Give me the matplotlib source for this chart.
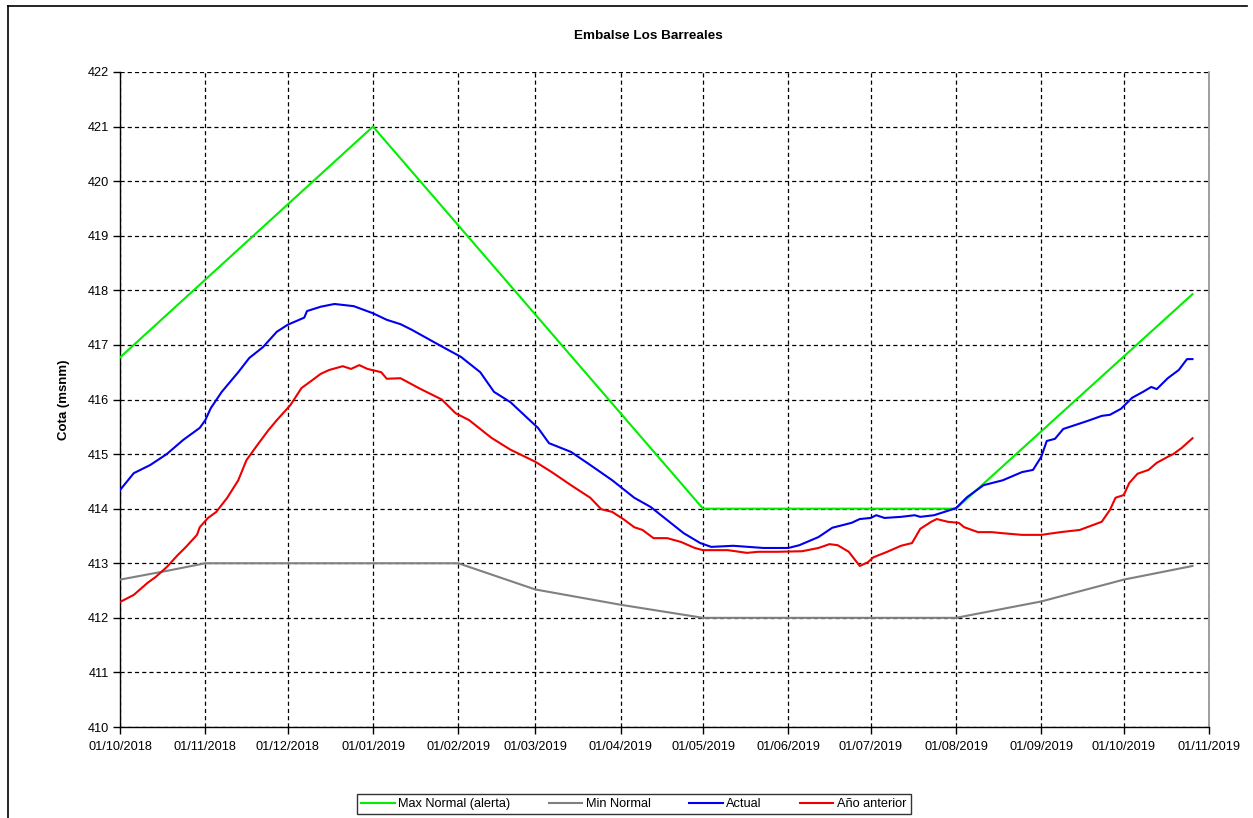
import matplotlib
matplotlib.use("Agg")
import matplotlib.pyplot as plt
import matplotlib.dates as mdates
import pandas as pd
from matplotlib.lines import Line2D

plt.rcParams['font.family'] = ['Liberation Sans', 'DejaVu Sans']
plt.rcParams['lines.scale_dashes'] = False

title = "Embalse Los Barreales"
ylabel = "Cota (msnm)"
series_names = ["Max Normal (alerta)", "Min Normal", "Actual", "Año anterior"]
series_colors = ["#00ee00", "#808080", "#0000ee", "#ee0000"]

max_dates = ["2018-10-01", "2019-01-01", "2019-05-01", "2019-08-01", "2019-10-26"]
max_vals = [416.77, 421.0, 414.0, 414.0, 417.93]

min_dates = ["2018-10-01", "2018-10-18", "2018-11-01", "2019-02-01", "2019-03-01",
             "2019-04-01", "2019-05-01", "2019-08-01", "2019-09-01", "2019-10-01", "2019-10-26"]
min_vals = [412.70, 412.86, 413.0, 413.0, 412.52, 412.24, 412.0, 412.0, 412.3, 412.7, 412.95]

act_dates = ["2018-10-01", "2018-10-06", "2018-10-12", "2018-10-18", "2018-10-24", "2018-10-30",
             "2018-11-01", "2018-11-03", "2018-11-07", "2018-11-13", "2018-11-17", "2018-11-22",
             "2018-11-27", "2018-12-01", "2018-12-07", "2018-12-08", "2018-12-13", "2018-12-18",
             "2018-12-25", "2019-01-01", "2019-01-06", "2019-01-11", "2019-01-15", "2019-01-25",
             "2019-02-02", "2019-02-09", "2019-02-14", "2019-02-20", "2019-02-27", "2019-03-02",
             "2019-03-06", "2019-03-14", "2019-03-21", "2019-03-29", "2019-04-06", "2019-04-12",
             "2019-04-18", "2019-04-24", "2019-04-30", "2019-05-04", "2019-05-12", "2019-05-23",
             "2019-06-01", "2019-06-05", "2019-06-12", "2019-06-17", "2019-06-24", "2019-06-27",
             "2019-07-01", "2019-07-03", "2019-07-06", "2019-07-12", "2019-07-17", "2019-07-19",
             "2019-07-24", "2019-07-29", "2019-08-01", "2019-08-05", "2019-08-11", "2019-08-18",
             "2019-08-25", "2019-08-29", "2019-09-01", "2019-09-03", "2019-09-06", "2019-09-09",
             "2019-09-12", "2019-09-18", "2019-09-23", "2019-09-26", "2019-09-30", "2019-10-04",
             "2019-10-08", "2019-10-11", "2019-10-13", "2019-10-17", "2019-10-21", "2019-10-24",
             "2019-10-26"]
act_vals = [414.34, 414.65, 414.80, 415.00, 415.26, 415.48,
            415.62, 415.84, 416.14, 416.50, 416.76, 416.96,
            417.24, 417.37, 417.50, 417.62, 417.70, 417.75,
            417.71, 417.58, 417.46, 417.38, 417.28, 417.00,
            416.78, 416.50, 416.14, 415.95, 415.62, 415.48,
            415.20, 415.04, 414.80, 414.52, 414.20, 414.03,
            413.79, 413.55, 413.37, 413.30, 413.32, 413.28,
            413.28, 413.33, 413.48, 413.65, 413.74, 413.81,
            413.83, 413.88, 413.83, 413.85, 413.88, 413.85,
            413.88, 413.96, 414.01, 414.21, 414.43, 414.52,
            414.67, 414.71, 414.95, 415.24, 415.28, 415.46,
            415.51, 415.61, 415.70, 415.72, 415.83, 416.03,
            416.14, 416.23, 416.19, 416.39, 416.54, 416.74,
            416.74]

prev_dates = ["2018-10-01", "2018-10-06", "2018-10-11", "2018-10-14", "2018-10-18", "2018-10-22",
              "2018-10-25", "2018-10-29", "2018-10-30", "2018-11-02", "2018-11-05", "2018-11-09",
              "2018-11-13", "2018-11-16", "2018-11-20", "2018-11-24", "2018-11-27", "2018-12-02",
              "2018-12-06", "2018-12-09", "2018-12-13", "2018-12-16", "2018-12-21", "2018-12-24",
              "2018-12-27", "2018-12-30", "2019-01-04", "2019-01-06", "2019-01-11", "2019-01-18",
              "2019-01-26", "2019-01-31", "2019-02-05", "2019-02-13", "2019-02-20", "2019-03-01",
              "2019-03-07", "2019-03-14", "2019-03-21", "2019-03-25", "2019-03-29", "2019-04-02",
              "2019-04-06", "2019-04-09", "2019-04-13", "2019-04-18", "2019-04-23", "2019-04-28",
              "2019-05-01", "2019-05-10", "2019-05-17", "2019-05-21", "2019-05-28", "2019-06-06",
              "2019-06-12", "2019-06-16", "2019-06-19", "2019-06-23", "2019-06-27", "2019-06-30",
              "2019-07-02", "2019-07-07", "2019-07-12", "2019-07-16", "2019-07-19", "2019-07-23",
              "2019-07-25", "2019-07-29", "2019-08-02", "2019-08-04", "2019-08-09", "2019-08-14",
              "2019-08-18", "2019-08-25", "2019-09-01", "2019-09-08", "2019-09-15", "2019-09-23",
              "2019-09-26", "2019-09-28", "2019-10-01", "2019-10-03", "2019-10-06", "2019-10-10",
              "2019-10-13", "2019-10-17", "2019-10-19", "2019-10-22", "2019-10-26"]
prev_vals = [412.29, 412.42, 412.64, 412.75, 412.93, 413.15,
             413.30, 413.52, 413.66, 413.83, 413.94, 414.20,
             414.52, 414.89, 415.17, 415.44, 415.62, 415.90,
             416.21, 416.32, 416.47, 416.54, 416.61, 416.56,
             416.63, 416.56, 416.50, 416.38, 416.39, 416.20,
             416.00, 415.75, 415.62, 415.30, 415.08, 414.86,
             414.67, 414.43, 414.20, 413.99, 413.94, 413.81,
             413.66, 413.61, 413.46, 413.46, 413.39, 413.28,
             413.24, 413.24, 413.19, 413.21, 413.21, 413.22,
             413.28, 413.35, 413.33, 413.21, 412.95, 413.02,
             413.11, 413.21, 413.32, 413.37, 413.63, 413.76,
             413.81, 413.76, 413.74, 413.66, 413.57, 413.57,
             413.55, 413.52, 413.52, 413.57, 413.61, 413.76,
             413.98, 414.20, 414.25, 414.47, 414.64, 414.71,
             414.84, 414.95, 415.00, 415.11, 415.29]

x_start, x_end = "2018-10-01", "2019-11-01"
y_min, y_max = 410, 422

W, H = 1253, 818
fig = plt.figure(figsize=(W / 100, H / 100), dpi=100)
ax = fig.add_axes([120 / W, 1 - 727 / H, (1209 - 120) / W, (727 - 72) / H])

all_series = [(max_dates, max_vals), (min_dates, min_vals), (act_dates, act_vals), (prev_dates, prev_vals)]
for (d, v), name, c in zip(all_series, series_names, series_colors):
    ax.plot(pd.to_datetime(d), v, color=c, lw=1.5, label=name, zorder=3)

ax.set_xlim(pd.Timestamp(x_start), pd.Timestamp(x_end))
ax.set_ylim(y_min, y_max)
ax.set_yticks(range(y_min, y_max + 1))
ax.xaxis.set_major_locator(mdates.MonthLocator())
ax.xaxis.set_major_formatter(mdates.DateFormatter("%d/%m/%Y"))

ax.grid(True, color="black", lw=0.9, linestyle=(0, (3.0, 2.2)), zorder=1)
for s in ["top"]:
    ax.spines[s].set_visible(False)
ax.spines["right"].set_color("#909090")
ax.spines["right"].set_linewidth(1.2)
for s in ["left", "bottom"]:
    ax.spines[s].set_color("black")
    ax.spines[s].set_linewidth(1.0)
ax.tick_params(axis="both", direction="out", length=5, width=1, labelsize=9.2,
               colors="black", pad=3)
ax.tick_params(axis="x", pad=5)

ax.set_ylabel(ylabel, fontsize=9.5, fontweight="bold")
ax.yaxis.set_label_coords(-0.046, 0.5)
fig.text(648 / W, 1 - 36 / H, title, fontsize=9.7, fontweight="bold", ha="center", va="center")

handles = [Line2D([0], [0], color=c, lw=1.5) for c in series_colors]
leg = fig.legend(handles, series_names, loc="center", bbox_to_anchor=(634 / W, 1 - 804 / H),
                 ncol=4, fontsize=9.2, frameon=True, fancybox=False, handlelength=2.6,
                 columnspacing=3.0, handletextpad=0.3, borderpad=0.35)
leg.get_frame().set_edgecolor("black")
leg.get_frame().set_linewidth(1.0)

# outer chart border (left and top edges visible)
fig.add_artist(Line2D([8 / W, 8 / W], [0, 1 - 6 / H], color="black", lw=1.2, transform=fig.transFigure))
fig.add_artist(Line2D([8 / W, 1247 / W], [1 - 6 / H, 1 - 6 / H], color="black", lw=1.2, transform=fig.transFigure))

fig.savefig("out.png", dpi=100)
